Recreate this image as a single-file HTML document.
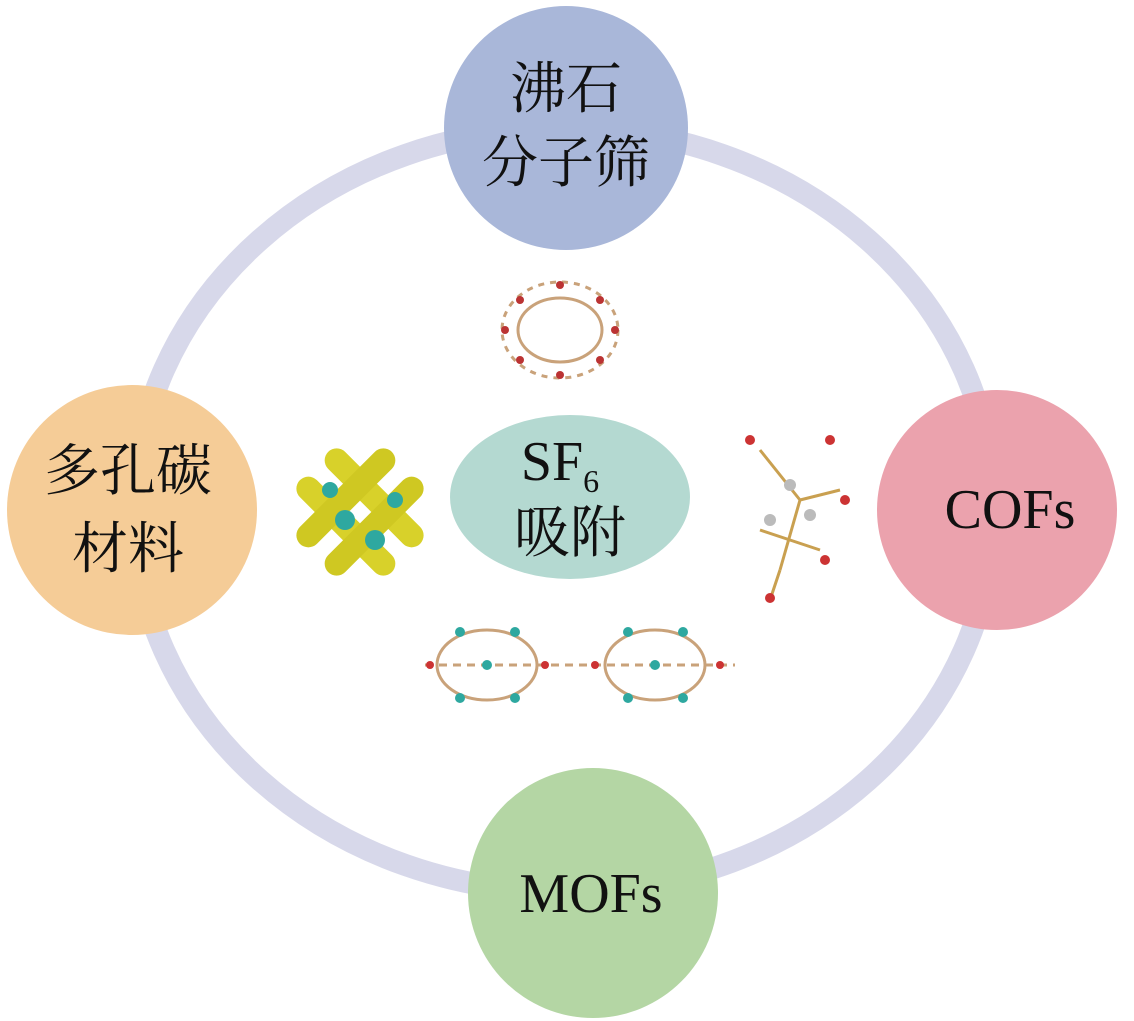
<!DOCTYPE html>
<html><head><meta charset="utf-8"><style>
html,body{margin:0;padding:0;background:#fff;}
svg{display:block;}
text{font-family:"Liberation Serif","Noto Serif CJK SC",serif;fill:#111;}
</style></head><body>
<svg width="1134" height="1021" viewBox="0 0 1134 1021" xmlns="http://www.w3.org/2000/svg">
<ellipse cx="564" cy="510" rx="430" ry="382" fill="none" stroke="#d7d8ea" stroke-width="22"/>
<circle cx="566" cy="128" r="122" fill="#a9b7d9"/>
<circle cx="132" cy="510" r="125" fill="#f5cc97"/>
<circle cx="997" cy="510" r="120" fill="#eba2ad"/>
<circle cx="593" cy="893" r="125" fill="#b4d6a4"/>
<ellipse cx="570" cy="497" rx="120" ry="82" fill="#b4d9d1"/>
<text x="566" y="108" font-size="56" text-anchor="middle">沸石</text>
<text x="566" y="182" font-size="56" text-anchor="middle">分子筛</text>
<text x="128" y="490" font-size="56" text-anchor="middle">多孔碳</text>
<text x="128" y="568" font-size="56" text-anchor="middle">材料</text>
<text x="1010" y="528" font-size="56" text-anchor="middle">COFs</text>
<text x="591" y="912" font-size="56" text-anchor="middle">MOFs</text>
<text x="560" y="480" font-size="56" text-anchor="middle">SF<tspan font-size="32" dy="12">6</tspan></text>
<text x="570" y="552" font-size="56" text-anchor="middle">吸附</text>
<!-- zeolite molecule -->
<g stroke="#c9a27a" stroke-width="3" fill="none">
<ellipse cx="560" cy="330" rx="42" ry="32"/>
<ellipse cx="560" cy="330" rx="58" ry="48" stroke-dasharray="6 6"/>
</g>
<g fill="#b33">
<circle cx="520" cy="300" r="4"/><circle cx="600" cy="300" r="4"/><circle cx="520" cy="360" r="4"/><circle cx="600" cy="360" r="4"/>
<circle cx="560" cy="285" r="4"/><circle cx="560" cy="375" r="4"/><circle cx="505" cy="330" r="4"/><circle cx="615" cy="330" r="4"/>
</g>
<!-- porous carbon block -->
<g transform="rotate(45 360 512)">
<rect x="295" y="480" width="130" height="24" rx="12" fill="#d8d12a"/>
<rect x="295" y="520" width="130" height="24" rx="12" fill="#d8d12a"/>
<rect x="328" y="447" width="24" height="130" rx="12" fill="#cfc822"/>
<rect x="368" y="447" width="24" height="130" rx="12" fill="#cfc822"/>
</g>
<g fill="#2ea8a0"><circle cx="345" cy="520" r="10"/><circle cx="375" cy="540" r="10"/><circle cx="330" cy="490" r="8"/><circle cx="395" cy="500" r="8"/></g>
<!-- COF molecule -->
<g stroke="#c9a050" stroke-width="3"><line x1="760" y1="450" x2="800" y2="500"/><line x1="800" y1="500" x2="780" y2="570"/><line x1="800" y1="500" x2="840" y2="490"/><line x1="780" y1="570" x2="770" y2="600"/><line x1="760" y1="530" x2="820" y2="550"/></g>
<g fill="#c33"><circle cx="750" cy="440" r="5"/><circle cx="830" cy="440" r="5"/><circle cx="845" cy="500" r="5"/><circle cx="770" cy="598" r="5"/><circle cx="825" cy="560" r="5"/></g>
<g fill="#bbb"><circle cx="790" cy="485" r="6"/><circle cx="810" cy="515" r="6"/><circle cx="770" cy="520" r="6"/></g>
<!-- MOF -->
<g stroke="#c9a27a" stroke-width="3" fill="none">
<ellipse cx="487" cy="665" rx="50" ry="35"/><ellipse cx="655" cy="665" rx="50" ry="35"/>
<line x1="425" y1="665" x2="735" y2="665" stroke-dasharray="8 6"/>
</g>
<g fill="#2ea8a0"><circle cx="460" cy="632" r="5"/><circle cx="515" cy="632" r="5"/><circle cx="460" cy="698" r="5"/><circle cx="515" cy="698" r="5"/><circle cx="628" cy="632" r="5"/><circle cx="683" cy="632" r="5"/><circle cx="628" cy="698" r="5"/><circle cx="683" cy="698" r="5"/><circle cx="487" cy="665" r="5"/><circle cx="655" cy="665" r="5"/></g>
<g fill="#c33"><circle cx="430" cy="665" r="4"/><circle cx="545" cy="665" r="4"/><circle cx="595" cy="665" r="4"/><circle cx="720" cy="665" r="4"/></g>
</svg>
</body></html>
